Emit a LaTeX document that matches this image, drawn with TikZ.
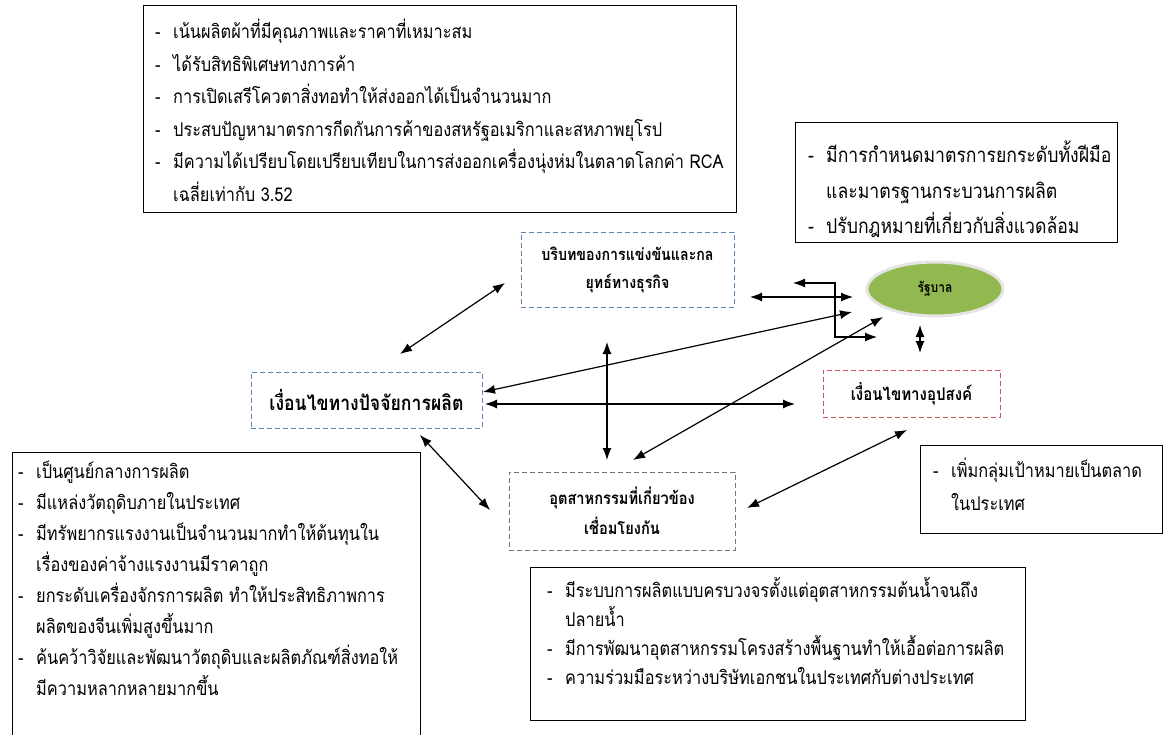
\documentclass[tikz,border=0pt]{standalone}
\usepackage{fontspec}
\newfontfamily\thaifont[Script=Thai,FakeStretch=0.86]{Loma}
\usepackage{tikz}
\usetikzlibrary{arrows.meta}
\usetikzlibrary{shapes.geometric}
\definecolor{govgreen}{RGB}{146,184,80}
\definecolor{ctxblue}{RGB}{95,135,180}
\definecolor{demred}{RGB}{205,85,95}
\newcommand{\bul}{\makebox[18pt][l]{-}}
\newcommand{\ind}{\hspace*{18pt}}
\tikzset{
	txtbox/.style={draw,line width=1.2pt,anchor=north west,inner sep=0pt},
	txtline/.style={anchor=base west,inner sep=0pt,font=\thaifont\fontsize{19}{22}\selectfont},
	dashbox/.style={draw,line width=0.9pt,dash pattern=on 5pt off 3pt,align=center,inner sep=2pt},
	dar/.style={line width=1.2pt,{Latex[length=12pt,width=9pt]}-{Latex[length=12pt,width=9pt]}}
}
\begin{document}
\begin{tikzpicture}[x=1pt,y=-1pt]
	\useasboundingbox (0,0) rectangle (1169,735);
	\node[txtbox,minimum width=593pt,minimum height=207pt] (topbox) at (143,5) {};
	\foreach \t [count=\i] in {\bul เน้นผลิตผ้าที่มีคุณภาพและราคาที่เหมาะสม, \bul ได้รับสิทธิพิเศษทางการค้า, \bul การเปิดเสรีโควตาสิ่งทอทำให้ส่งออกได้เป็นจำนวนมาก, \bul ประสบปัญหามาตรการกีดกันการค้าของสหรัฐอเมริกาและสหภาพยุโรป, \bul มีความได้เปรียบโดยเปรียบเทียบในการส่งออกเครื่องนุ่งห่มในตลาดโลกค่า RCA, \ind เฉลี่ยเท่ากับ 3.52}{
		\node[txtline] (top\i) at (155,{39+32.5*(\i-1)}) {\t};
	}
	\node[txtbox,minimum width=322pt,minimum height=120pt] (rtbox) at (795,122) {};
	\foreach \t [count=\i] in {\bul มีการกำหนดมาตรการยกระดับทั้งฝีมือ, \ind และมาตรฐานกระบวนการผลิต, \bul ปรับกฎหมายที่เกี่ยวกับสิ่งแวดล้อม}{
		\node[txtline,font=\thaifont\fontsize{20.5}{24}\selectfont] (rt\i) at (808,{163+35.5*(\i-1)}) {\t};
	}
	\node[txtbox,minimum width=408pt,minimum height=320pt] (lfbox) at (12,452) {};
	\foreach \t [count=\i] in {\bul เป็นศูนย์กลางการผลิต, \bul มีแหล่งวัตถุดิบภายในประเทศ, \bul มีทรัพยากรแรงงานเป็นจำนวนมากทำให้ต้นทุนใน, \ind เรื่องของค่าจ้างแรงงานมีราคาถูก, \bul ยกระดับเครื่องจักรการผลิต ทำให้ประสิทธิภาพการ, \ind ผลิตของจีนเพิ่มสูงขึ้นมาก, \bul ค้นคว้าวิจัยและพัฒนาวัตถุดิบและผลิตภัณฑ์สิ่งทอให้, \ind มีความหลากหลายมากขึ้น}{
		\node[txtline] (lf\i) at (18,{478+31*(\i-1)}) {\t};
	}
	\node[txtbox,minimum width=242pt,minimum height=88pt] (smbox) at (920,445) {};
	\foreach \t [count=\i] in {\bul เพิ่มกลุ่มเป้าหมายเป็นตลาด, \ind ในประเทศ}{
		\node[txtline] (sm\i) at (933,{477+33*(\i-1)}) {\t};
	}
	\node[txtbox,minimum width=495pt,minimum height=153pt] (btbox) at (530,567) {};
	\foreach \t [count=\i] in {\bul มีระบบการผลิตแบบครบวงจรตั้งแต่อุตสาหกรรมต้นน้ำจนถึง, \ind ปลายน้ำ, \bul มีการพัฒนาอุตสาหกรรมโครงสร้างพื้นฐานทำให้เอื้อต่อการผลิต, \bul ความร่วมมือระหว่างบริษัทเอกชนในประเทศกับต่างประเทศ}{
		\node[txtline] (bt\i) at (547,{597+29*(\i-1)}) {\t};
	}
	\node[dashbox,draw=ctxblue,minimum width=213pt,minimum height=75pt,font=\thaifont\bfseries\fontsize{16.5}{28}\selectfont] (ctx) at (627.5,269.5) {บริบทของการแข่งขันและกล\\ยุทธ์ทางธุรกิจ};
	\node[dashbox,draw=ctxblue,minimum width=231pt,minimum height=56pt,font=\thaifont\bfseries\fontsize{20.5}{24}\selectfont] (fac) at (366.5,400) {เงื่อนไขทางปัจจัยการผลิต};
	\node[dashbox,draw=demred,minimum width=177pt,minimum height=47pt,font=\thaifont\bfseries\fontsize{17.5}{24}\selectfont] (dem) at (911.5,393.5) {เงื่อนไขทางอุปสงค์};
	\node[dashbox,draw=black!55,minimum width=226pt,minimum height=78pt,font=\thaifont\bfseries\fontsize{17}{30}\selectfont] (rel) at (622,511) {อุตสาหกรรมที่เกี่ยวข้อง\\เชื่อมโยงกัน};
	\node[ellipse,fill=govgreen,draw=black!10,line width=3pt,minimum width=136pt,minimum height=54pt,font=\thaifont\bfseries\fontsize{14}{18}\selectfont] (gov) at (935,289) {รัฐบาล};
	\coordinate (c1) at (505,283);
	\coordinate (f1) at (400,354);
	\coordinate (c2) at (750,297);
	\coordinate (g1) at (853,297);
	\coordinate (f2) at (483,392);
	\coordinate (g2) at (852,312);
	\coordinate (f3) at (485,404);
	\coordinate (d1) at (795,404);
	\coordinate (c3) at (607,342);
	\coordinate (r1) at (607,460);
	\coordinate (r2) at (633,460);
	\coordinate (g3) at (883,317);
	\coordinate (f4) at (420,435);
	\coordinate (r3) at (490,510);
	\coordinate (r4) at (747,508);
	\coordinate (d2) at (907,430);
	\coordinate (g4) at (920,325);
	\coordinate (d3) at (920,353);
	\coordinate (e1) at (793,283);
	\coordinate (e2) at (877,337);
	\foreach \a/\b in {c1/f1,c2/g1,f2/g2,f3/d1,c3/r1,r2/g3,f4/r3,r4/d2,g4/d3}{
		\draw[dar] (\a) -- (\b);
	}
	\draw[dar] (e1) -- ++(42,0) |- (e2);
\end{tikzpicture}
\end{document}
